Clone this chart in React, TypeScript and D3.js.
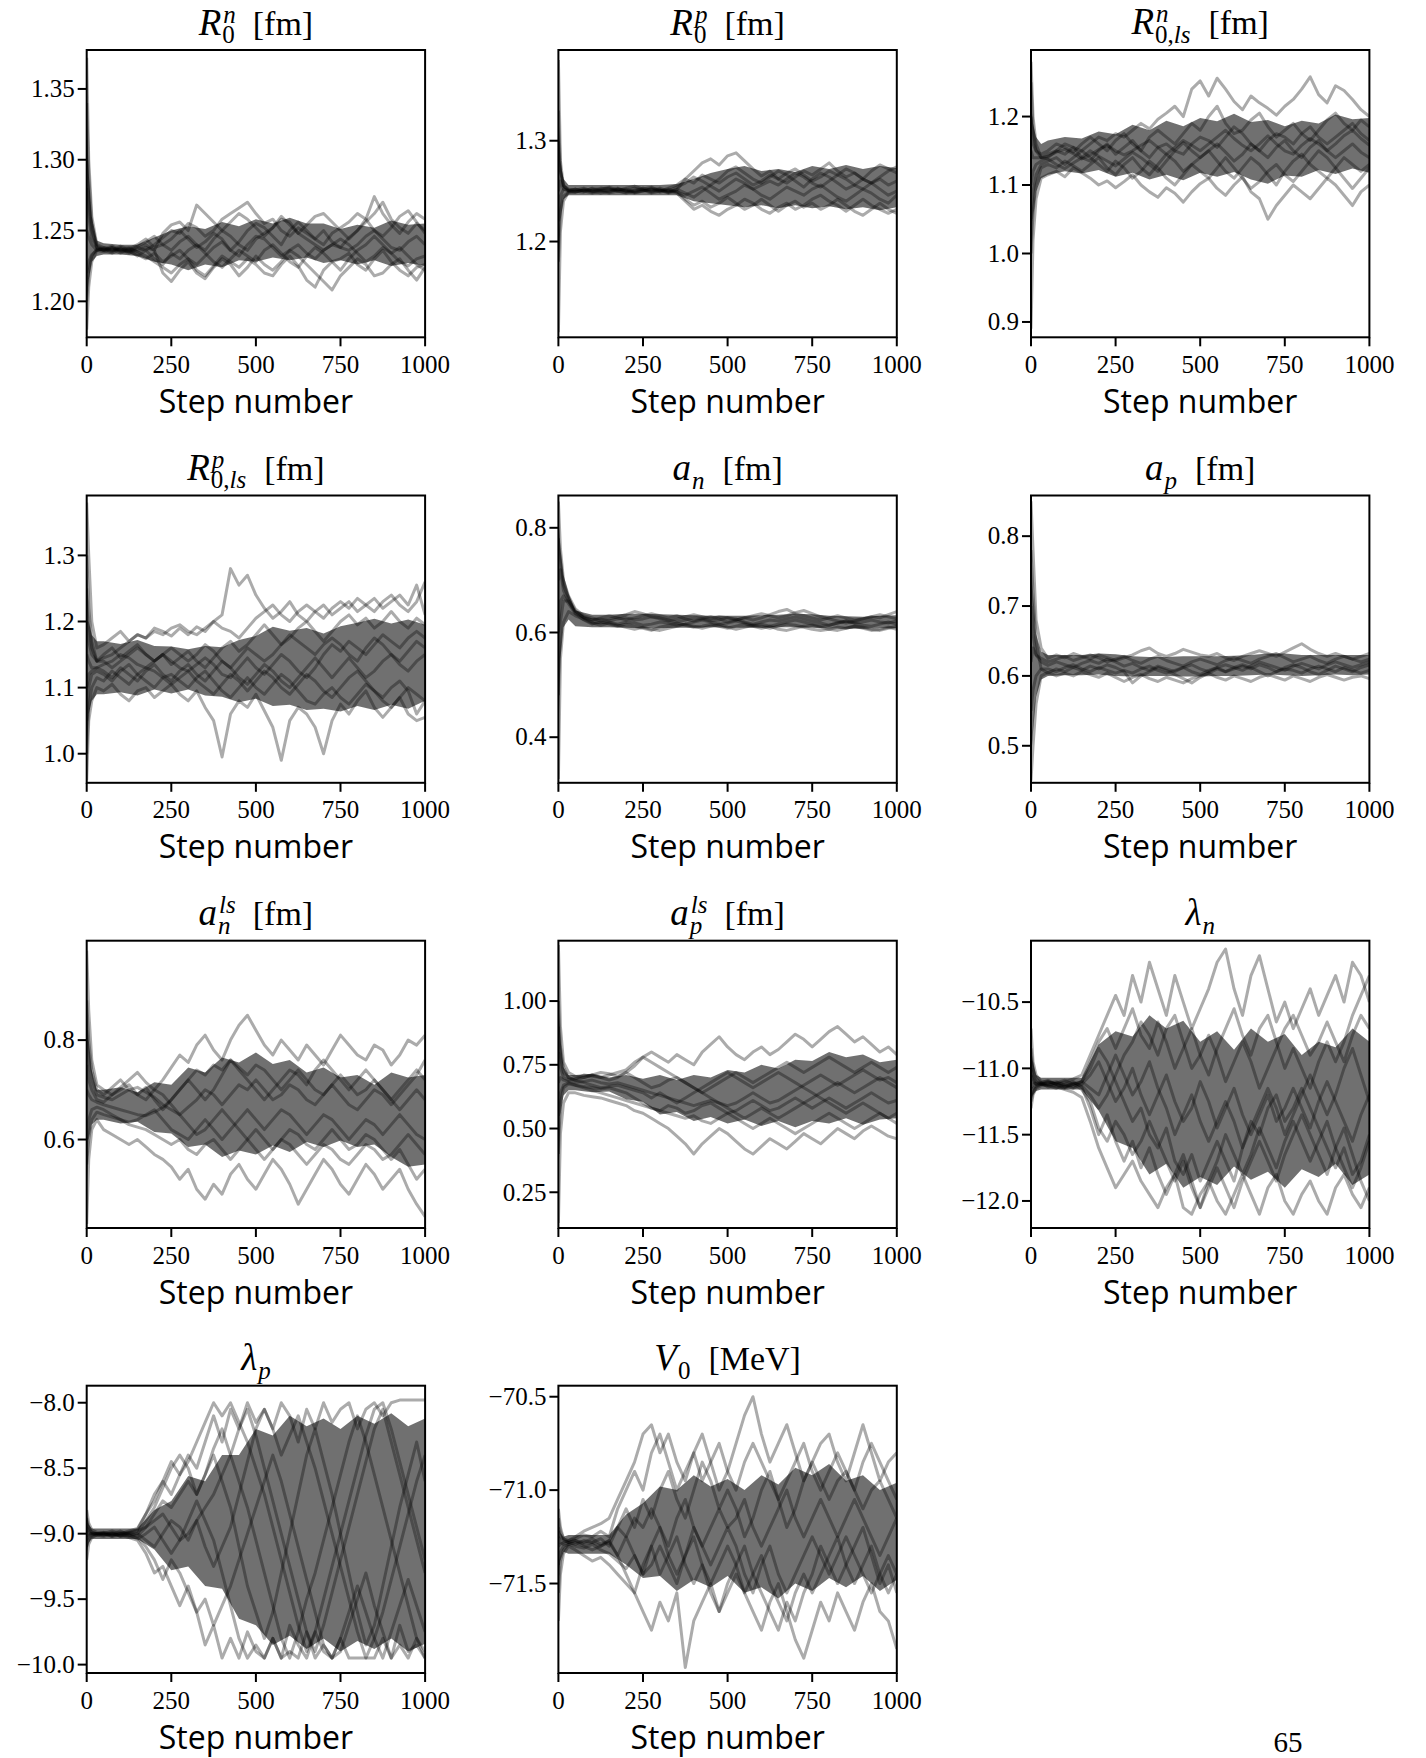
import React from 'react';
import * as d3 from 'd3';

// ---------------- data ----------------
const STEPS = [0, 6, 15, 30, 50, 75, 100, 125, 150, 175, 200, 225, 250, 275, 300, 325, 350, 375, 400, 425, 450, 475, 500, 525, 550, 575, 600, 625, 650, 675, 700, 725, 750, 775, 800, 825, 850, 875, 900, 925, 950, 975, 1000];
const BAND_STEPS = [0, 6, 15, 30, 50, 100, 150, 200, 250, 300, 350, 400, 450, 500, 550, 600, 650, 700, 750, 800, 850, 900, 950, 1000];
const X_TICKS = [0, 250, 500, 750, 1000];

const R0N_WALKERS = [
  [1.372, 1.30, 1.26, 1.240, 1.238, 1.236, 1.237, 1.235, 1.238, 1.236, 1.240, 1.245, 1.250, 1.248, 1.255, 1.252, 1.246, 1.250, 1.258, 1.262, 1.266, 1.270, 1.262, 1.255, 1.258, 1.250, 1.246, 1.252, 1.248, 1.244, 1.250, 1.242, 1.238, 1.245, 1.250, 1.256, 1.262, 1.270, 1.258, 1.252, 1.248, 1.255, 1.250],
  [1.18, 1.21, 1.228, 1.236, 1.237, 1.239, 1.236, 1.238, 1.235, 1.232, 1.228, 1.224, 1.220, 1.226, 1.230, 1.222, 1.218, 1.225, 1.232, 1.228, 1.224, 1.230, 1.226, 1.220, 1.218, 1.226, 1.232, 1.225, 1.215, 1.210, 1.222, 1.228, 1.230, 1.234, 1.226, 1.222, 1.230, 1.236, 1.228, 1.222, 1.218, 1.224, 1.226],
  [1.30, 1.27, 1.25, 1.238, 1.236, 1.238, 1.235, 1.237, 1.240, 1.244, 1.238, 1.240, 1.236, 1.242, 1.246, 1.240, 1.236, 1.244, 1.250, 1.246, 1.240, 1.236, 1.244, 1.248, 1.252, 1.258, 1.256, 1.248, 1.244, 1.240, 1.236, 1.240, 1.238, 1.236, 1.240, 1.246, 1.250, 1.244, 1.238, 1.236, 1.242, 1.246, 1.240],
  [1.20, 1.22, 1.232, 1.237, 1.236, 1.234, 1.237, 1.235, 1.233, 1.230, 1.234, 1.228, 1.232, 1.236, 1.230, 1.226, 1.232, 1.238, 1.242, 1.236, 1.232, 1.240, 1.246, 1.244, 1.238, 1.232, 1.236, 1.240, 1.234, 1.230, 1.236, 1.240, 1.244, 1.240, 1.234, 1.228, 1.232, 1.238, 1.234, 1.228, 1.225, 1.230, 1.232],
  [1.34, 1.29, 1.255, 1.239, 1.237, 1.235, 1.238, 1.236, 1.239, 1.242, 1.246, 1.240, 1.244, 1.250, 1.244, 1.238, 1.242, 1.248, 1.244, 1.236, 1.242, 1.250, 1.255, 1.252, 1.246, 1.240, 1.250, 1.256, 1.250, 1.244, 1.240, 1.248, 1.252, 1.256, 1.262, 1.258, 1.250, 1.246, 1.252, 1.260, 1.264, 1.256, 1.248],
  [1.25, 1.245, 1.24, 1.236, 1.235, 1.237, 1.234, 1.236, 1.232, 1.236, 1.230, 1.226, 1.234, 1.230, 1.236, 1.240, 1.234, 1.228, 1.224, 1.230, 1.236, 1.232, 1.228, 1.236, 1.240, 1.234, 1.228, 1.224, 1.232, 1.238, 1.234, 1.228, 1.222, 1.230, 1.236, 1.240, 1.246, 1.240, 1.234, 1.238, 1.232, 1.226, 1.222],
  [1.22, 1.228, 1.233, 1.236, 1.238, 1.236, 1.239, 1.237, 1.235, 1.238, 1.236, 1.220, 1.214, 1.222, 1.228, 1.220, 1.216, 1.224, 1.230, 1.226, 1.218, 1.224, 1.232, 1.226, 1.222, 1.228, 1.236, 1.232, 1.226, 1.220, 1.214, 1.208, 1.218, 1.224, 1.230, 1.226, 1.218, 1.220, 1.226, 1.230, 1.222, 1.215, 1.224],
  [1.28, 1.26, 1.245, 1.238, 1.236, 1.238, 1.236, 1.234, 1.237, 1.240, 1.236, 1.248, 1.254, 1.256, 1.250, 1.268, 1.262, 1.256, 1.250, 1.256, 1.262, 1.258, 1.252, 1.246, 1.252, 1.260, 1.254, 1.248, 1.254, 1.260, 1.262, 1.256, 1.250, 1.244, 1.250, 1.258, 1.274, 1.262, 1.254, 1.248, 1.256, 1.262, 1.258],
];
const R0N_LO = [1.20, 1.215, 1.228, 1.232, 1.233, 1.233, 1.232, 1.228, 1.226, 1.222, 1.226, 1.224, 1.229, 1.228, 1.231, 1.229, 1.231, 1.227, 1.229, 1.226, 1.229, 1.225, 1.227, 1.225];
const R0N_HI = [1.33, 1.29, 1.26, 1.243, 1.241, 1.240, 1.240, 1.245, 1.250, 1.253, 1.251, 1.256, 1.253, 1.258, 1.255, 1.259, 1.255, 1.255, 1.251, 1.254, 1.252, 1.257, 1.254, 1.255];
const R0N_DOMAIN = [1.1746, 1.3775];
const R0N_TICKS = [1.2, 1.25, 1.3, 1.35];

const R0P_WALKERS = [
  [1.38, 1.28, 1.255, 1.251, 1.252, 1.250, 1.253, 1.251, 1.249, 1.252, 1.250, 1.253, 1.251, 1.250, 1.252, 1.249, 1.251, 1.262, 1.270, 1.278, 1.282, 1.276, 1.285, 1.288, 1.280, 1.272, 1.265, 1.270, 1.262, 1.258, 1.264, 1.270, 1.266, 1.272, 1.278, 1.270, 1.264, 1.268, 1.262, 1.270, 1.276, 1.272, 1.268],
  [1.11, 1.21, 1.24, 1.249, 1.250, 1.252, 1.249, 1.251, 1.253, 1.250, 1.248, 1.250, 1.252, 1.249, 1.251, 1.248, 1.250, 1.242, 1.236, 1.240, 1.234, 1.238, 1.244, 1.238, 1.232, 1.236, 1.242, 1.236, 1.230, 1.236, 1.240, 1.234, 1.238, 1.232, 1.236, 1.242, 1.236, 1.230, 1.226, 1.232, 1.238, 1.232, 1.228],
  [1.30, 1.27, 1.255, 1.252, 1.251, 1.253, 1.250, 1.252, 1.254, 1.251, 1.253, 1.255, 1.252, 1.254, 1.250, 1.253, 1.256, 1.262, 1.258, 1.266, 1.262, 1.258, 1.264, 1.268, 1.262, 1.256, 1.260, 1.266, 1.262, 1.268, 1.272, 1.266, 1.260, 1.264, 1.270, 1.266, 1.272, 1.268, 1.262, 1.258, 1.264, 1.270, 1.274],
  [1.18, 1.23, 1.245, 1.249, 1.249, 1.251, 1.252, 1.250, 1.248, 1.250, 1.252, 1.249, 1.251, 1.248, 1.250, 1.252, 1.249, 1.246, 1.250, 1.254, 1.248, 1.242, 1.246, 1.250, 1.256, 1.252, 1.246, 1.242, 1.248, 1.254, 1.250, 1.246, 1.252, 1.256, 1.250, 1.244, 1.240, 1.246, 1.252, 1.248, 1.242, 1.238, 1.246],
  [1.25, 1.26, 1.252, 1.250, 1.252, 1.250, 1.248, 1.250, 1.251, 1.253, 1.250, 1.248, 1.250, 1.252, 1.249, 1.251, 1.248, 1.240, 1.232, 1.236, 1.230, 1.226, 1.232, 1.236, 1.242, 1.238, 1.232, 1.228, 1.234, 1.238, 1.232, 1.236, 1.242, 1.246, 1.240, 1.236, 1.230, 1.236, 1.242, 1.236, 1.232, 1.228, 1.232],
  [1.22, 1.245, 1.252, 1.251, 1.250, 1.249, 1.251, 1.253, 1.252, 1.250, 1.249, 1.251, 1.253, 1.251, 1.253, 1.250, 1.254, 1.258, 1.264, 1.260, 1.255, 1.250, 1.256, 1.262, 1.258, 1.252, 1.256, 1.260, 1.256, 1.262, 1.268, 1.264, 1.258, 1.254, 1.260, 1.266, 1.262, 1.256, 1.252, 1.258, 1.262, 1.256, 1.260],
  [1.33, 1.27, 1.256, 1.250, 1.249, 1.251, 1.250, 1.248, 1.250, 1.252, 1.251, 1.249, 1.250, 1.253, 1.251, 1.249, 1.252, 1.248, 1.244, 1.250, 1.256, 1.262, 1.270, 1.274, 1.268, 1.262, 1.258, 1.264, 1.270, 1.266, 1.260, 1.254, 1.262, 1.268, 1.264, 1.258, 1.252, 1.256, 1.262, 1.258, 1.252, 1.246, 1.250],
];
const R0P_LO = [1.16, 1.22, 1.242, 1.246, 1.246, 1.246, 1.246, 1.246, 1.246, 1.246, 1.246, 1.240, 1.238, 1.236, 1.234, 1.236, 1.233, 1.236, 1.233, 1.235, 1.232, 1.234, 1.231, 1.234];
const R0P_HI = [1.33, 1.28, 1.262, 1.256, 1.256, 1.256, 1.256, 1.256, 1.256, 1.256, 1.257, 1.262, 1.268, 1.272, 1.275, 1.270, 1.272, 1.269, 1.275, 1.272, 1.276, 1.272, 1.275, 1.273];
const R0P_DOMAIN = [1.105, 1.39];
const R0P_TICKS = [1.2, 1.3];

const R0LSN_WALKERS = [
  [1.28, 1.20, 1.16, 1.14, 1.145, 1.150, 1.160, 1.155, 1.150, 1.160, 1.170, 1.165, 1.175, 1.170, 1.180, 1.190, 1.182, 1.196, 1.205, 1.215, 1.200, 1.240, 1.252, 1.230, 1.256, 1.240, 1.222, 1.210, 1.230, 1.220, 1.212, 1.202, 1.215, 1.225, 1.240, 1.258, 1.232, 1.220, 1.245, 1.238, 1.225, 1.210, 1.200],
  [0.89, 1.02, 1.08, 1.11, 1.115, 1.120, 1.112, 1.125, 1.118, 1.110, 1.100, 1.106, 1.096, 1.105, 1.115, 1.100, 1.090, 1.082, 1.096, 1.088, 1.075, 1.090, 1.102, 1.110, 1.095, 1.085, 1.100, 1.112, 1.090, 1.080, 1.050, 1.070, 1.085, 1.100, 1.090, 1.080, 1.095, 1.110, 1.100, 1.085, 1.070, 1.090, 1.100],
  [1.10, 1.12, 1.13, 1.135, 1.140, 1.150, 1.145, 1.155, 1.140, 1.135, 1.150, 1.160, 1.145, 1.155, 1.165, 1.150, 1.140, 1.155, 1.160, 1.150, 1.145, 1.160, 1.170, 1.165, 1.155, 1.170, 1.185, 1.175, 1.160, 1.150, 1.165, 1.175, 1.170, 1.160, 1.175, 1.185, 1.170, 1.160, 1.170, 1.180, 1.190, 1.175, 1.165],
  [1.00, 1.06, 1.10, 1.125, 1.130, 1.125, 1.135, 1.128, 1.120, 1.130, 1.140, 1.125, 1.115, 1.130, 1.140, 1.125, 1.115, 1.130, 1.145, 1.135, 1.120, 1.130, 1.140, 1.150, 1.135, 1.120, 1.110, 1.125, 1.140, 1.130, 1.115, 1.100, 1.120, 1.135, 1.145, 1.130, 1.120, 1.110, 1.125, 1.140, 1.130, 1.120, 1.130],
  [1.20, 1.16, 1.15, 1.145, 1.150, 1.160, 1.155, 1.148, 1.160, 1.170, 1.160, 1.150, 1.165, 1.175, 1.160, 1.150, 1.170, 1.180, 1.170, 1.160, 1.175, 1.190, 1.180, 1.200, 1.215, 1.190, 1.175, 1.180, 1.195, 1.205, 1.185, 1.170, 1.180, 1.190, 1.175, 1.165, 1.180, 1.195, 1.205, 1.190, 1.180, 1.195, 1.185],
  [1.05, 1.09, 1.115, 1.13, 1.135, 1.140, 1.130, 1.140, 1.150, 1.140, 1.130, 1.120, 1.135, 1.125, 1.110, 1.120, 1.135, 1.125, 1.110, 1.100, 1.115, 1.130, 1.120, 1.110, 1.125, 1.140, 1.125, 1.110, 1.095, 1.105, 1.120, 1.130, 1.115, 1.105, 1.120, 1.135, 1.150, 1.140, 1.125, 1.110, 1.095, 1.110, 1.125],
  [1.15, 1.14, 1.14, 1.14, 1.142, 1.148, 1.152, 1.146, 1.138, 1.144, 1.152, 1.158, 1.150, 1.144, 1.150, 1.158, 1.165, 1.155, 1.145, 1.155, 1.165, 1.158, 1.150, 1.160, 1.170, 1.180, 1.168, 1.158, 1.150, 1.160, 1.172, 1.160, 1.150, 1.145, 1.158, 1.168, 1.160, 1.150, 1.160, 1.172, 1.180, 1.168, 1.158],
  [1.25, 1.18, 1.15, 1.14, 1.138, 1.130, 1.124, 1.132, 1.140, 1.150, 1.142, 1.135, 1.128, 1.138, 1.148, 1.140, 1.130, 1.120, 1.135, 1.150, 1.162, 1.150, 1.140, 1.150, 1.160, 1.148, 1.135, 1.145, 1.160, 1.150, 1.140, 1.155, 1.165, 1.150, 1.140, 1.155, 1.165, 1.150, 1.140, 1.150, 1.160, 1.148, 1.140],
];
const R0LSN_LO = [0.98, 1.05, 1.09, 1.11, 1.115, 1.12, 1.117, 1.122, 1.112, 1.118, 1.108, 1.115, 1.107, 1.118, 1.112, 1.119, 1.108, 1.102, 1.114, 1.112, 1.122, 1.116, 1.124, 1.118];
const R0LSN_HI = [1.22, 1.19, 1.17, 1.16, 1.165, 1.17, 1.168, 1.178, 1.174, 1.188, 1.180, 1.194, 1.186, 1.198, 1.193, 1.204, 1.192, 1.195, 1.186, 1.194, 1.190, 1.203, 1.196, 1.198];
const R0LSN_DOMAIN = [0.8776, 1.2972];
const R0LSN_TICKS = [0.9, 1.0, 1.1, 1.2];

const R0LSP_WALKERS = [
  [1.38, 1.30, 1.20, 1.16, 1.165, 1.175, 1.185, 1.170, 1.180, 1.175, 1.190, 1.185, 1.178, 1.190, 1.180, 1.192, 1.185, 1.200, 1.210, 1.280, 1.255, 1.270, 1.240, 1.220, 1.205, 1.215, 1.230, 1.210, 1.200, 1.215, 1.225, 1.210, 1.220, 1.230, 1.215, 1.225, 1.235, 1.220, 1.230, 1.240, 1.225, 1.255, 1.210],
  [0.96, 1.05, 1.08, 1.10, 1.095, 1.105, 1.090, 1.080, 1.095, 1.100, 1.085, 1.095, 1.105, 1.090, 1.080, 1.095, 1.070, 1.050, 0.995, 1.060, 1.080, 1.070, 1.090, 1.065, 1.040, 0.990, 1.050, 1.070, 1.060, 1.040, 1.000, 1.050, 1.075, 1.060, 1.080, 1.095, 1.070, 1.055, 1.070, 1.085, 1.060, 1.050, 1.055],
  [1.15, 1.14, 1.13, 1.13, 1.135, 1.140, 1.150, 1.145, 1.135, 1.130, 1.140, 1.150, 1.140, 1.130, 1.125, 1.135, 1.145, 1.135, 1.120, 1.115, 1.130, 1.145, 1.130, 1.120, 1.135, 1.150, 1.140, 1.125, 1.115, 1.130, 1.150, 1.165, 1.155, 1.170, 1.160, 1.150, 1.165, 1.180, 1.170, 1.160, 1.175, 1.185, 1.175],
  [1.05, 1.10, 1.12, 1.125, 1.120, 1.110, 1.125, 1.135, 1.120, 1.110, 1.100, 1.115, 1.120, 1.110, 1.100, 1.115, 1.125, 1.110, 1.095, 1.085, 1.100, 1.115, 1.100, 1.090, 1.105, 1.120, 1.110, 1.095, 1.080, 1.075, 1.090, 1.100, 1.085, 1.075, 1.090, 1.105, 1.095, 1.080, 1.070, 1.085, 1.100, 1.090, 1.080],
  [1.25, 1.20, 1.16, 1.14, 1.150, 1.160, 1.145, 1.155, 1.165, 1.150, 1.140, 1.150, 1.135, 1.145, 1.155, 1.140, 1.130, 1.145, 1.160, 1.170, 1.155, 1.165, 1.180, 1.195, 1.180, 1.165, 1.175, 1.190, 1.200, 1.185, 1.170, 1.185, 1.200, 1.210, 1.195, 1.205, 1.190, 1.200, 1.215, 1.200, 1.190, 1.205, 1.195],
  [1.10, 1.12, 1.125, 1.13, 1.125, 1.115, 1.130, 1.120, 1.110, 1.125, 1.135, 1.120, 1.110, 1.125, 1.135, 1.120, 1.110, 1.125, 1.140, 1.130, 1.115, 1.105, 1.120, 1.135, 1.125, 1.110, 1.100, 1.115, 1.130, 1.145, 1.130, 1.115, 1.130, 1.145, 1.130, 1.115, 1.125, 1.140, 1.150, 1.135, 1.125, 1.140, 1.150],
  [1.20, 1.17, 1.15, 1.14, 1.145, 1.150, 1.160, 1.170, 1.180, 1.175, 1.185, 1.180, 1.190, 1.195, 1.185, 1.180, 1.190, 1.200, 1.190, 1.185, 1.175, 1.190, 1.205, 1.215, 1.225, 1.210, 1.200, 1.215, 1.225, 1.215, 1.205, 1.220, 1.230, 1.220, 1.235, 1.225, 1.215, 1.230, 1.240, 1.225, 1.215, 1.230, 1.260],
  [1.00, 1.07, 1.10, 1.115, 1.110, 1.125, 1.115, 1.105, 1.120, 1.130, 1.125, 1.115, 1.105, 1.115, 1.125, 1.110, 1.100, 1.090, 1.105, 1.120, 1.110, 1.095, 1.110, 1.125, 1.115, 1.100, 1.090, 1.105, 1.120, 1.110, 1.095, 1.085, 1.100, 1.115, 1.125, 1.110, 1.095, 1.085, 1.100, 1.110, 1.095, 1.060, 1.080],
  [1.30, 1.22, 1.17, 1.14, 1.140, 1.130, 1.140, 1.150, 1.160, 1.150, 1.140, 1.150, 1.160, 1.150, 1.140, 1.150, 1.165, 1.155, 1.140, 1.130, 1.145, 1.160, 1.150, 1.140, 1.150, 1.165, 1.180, 1.170, 1.160, 1.150, 1.165, 1.175, 1.165, 1.150, 1.140, 1.160, 1.175, 1.165, 1.150, 1.140, 1.155, 1.170, 1.160],
];
const R0LSP_LO = [1.0, 1.06, 1.08, 1.09, 1.09, 1.093, 1.088, 1.097, 1.091, 1.097, 1.088, 1.086, 1.078, 1.083, 1.072, 1.074, 1.066, 1.068, 1.064, 1.072, 1.066, 1.074, 1.068, 1.08];
const R0LSP_HI = [1.3, 1.2, 1.18, 1.17, 1.17, 1.166, 1.172, 1.163, 1.162, 1.158, 1.163, 1.161, 1.172, 1.178, 1.192, 1.186, 1.19, 1.182, 1.193, 1.198, 1.204, 1.197, 1.203, 1.195];
const R0LSP_DOMAIN = [0.956, 1.3906];
const R0LSP_TICKS = [1.0, 1.1, 1.2, 1.3];

const AN_WALKERS = [
  [0.85, 0.76, 0.70, 0.67, 0.645, 0.632, 0.628, 0.622, 0.626, 0.630, 0.634, 0.640, 0.636, 0.630, 0.626, 0.622, 0.626, 0.630, 0.634, 0.630, 0.626, 0.630, 0.628, 0.624, 0.628, 0.632, 0.636, 0.632, 0.628, 0.632, 0.638, 0.642, 0.636, 0.630, 0.626, 0.622, 0.618, 0.622, 0.626, 0.630, 0.628, 0.634, 0.640],
  [0.32, 0.55, 0.62, 0.64, 0.632, 0.625, 0.618, 0.614, 0.618, 0.614, 0.610, 0.606, 0.610, 0.606, 0.604, 0.608, 0.612, 0.616, 0.612, 0.608, 0.612, 0.616, 0.610, 0.606, 0.610, 0.614, 0.612, 0.608, 0.612, 0.616, 0.614, 0.610, 0.606, 0.604, 0.606, 0.610, 0.608, 0.612, 0.610, 0.606, 0.604, 0.608, 0.612],
  [0.70, 0.72, 0.68, 0.66, 0.640, 0.630, 0.624, 0.626, 0.622, 0.626, 0.628, 0.624, 0.626, 0.630, 0.628, 0.624, 0.620, 0.624, 0.628, 0.626, 0.622, 0.624, 0.628, 0.626, 0.620, 0.616, 0.620, 0.624, 0.622, 0.626, 0.630, 0.626, 0.622, 0.618, 0.614, 0.618, 0.622, 0.618, 0.620, 0.624, 0.620, 0.618, 0.622],
  [0.48, 0.62, 0.66, 0.66, 0.638, 0.628, 0.620, 0.618, 0.620, 0.616, 0.620, 0.618, 0.614, 0.616, 0.620, 0.618, 0.614, 0.616, 0.620, 0.624, 0.620, 0.616, 0.618, 0.622, 0.618, 0.614, 0.616, 0.612, 0.616, 0.620, 0.624, 0.620, 0.616, 0.612, 0.614, 0.618, 0.622, 0.618, 0.614, 0.612, 0.616, 0.620, 0.616],
  [0.78, 0.74, 0.69, 0.665, 0.642, 0.628, 0.624, 0.628, 0.632, 0.628, 0.624, 0.628, 0.632, 0.636, 0.632, 0.628, 0.632, 0.626, 0.622, 0.626, 0.630, 0.626, 0.620, 0.624, 0.628, 0.624, 0.628, 0.634, 0.640, 0.644, 0.636, 0.632, 0.628, 0.624, 0.628, 0.632, 0.628, 0.624, 0.626, 0.630, 0.634, 0.630, 0.626],
  [0.60, 0.66, 0.67, 0.655, 0.636, 0.624, 0.616, 0.620, 0.616, 0.612, 0.616, 0.612, 0.608, 0.604, 0.610, 0.614, 0.618, 0.614, 0.610, 0.612, 0.616, 0.612, 0.608, 0.612, 0.616, 0.612, 0.608, 0.612, 0.606, 0.604, 0.608, 0.612, 0.614, 0.610, 0.606, 0.604, 0.608, 0.612, 0.608, 0.604, 0.606, 0.610, 0.606],
];
const AN_LO = [0.40, 0.55, 0.61, 0.625, 0.612, 0.610, 0.610, 0.609, 0.608, 0.608, 0.609, 0.609, 0.610, 0.609, 0.609, 0.609, 0.610, 0.610, 0.609, 0.608, 0.607, 0.607, 0.608, 0.608];
const AN_HI = [0.82, 0.76, 0.71, 0.675, 0.642, 0.634, 0.634, 0.636, 0.636, 0.635, 0.634, 0.633, 0.632, 0.632, 0.632, 0.633, 0.634, 0.636, 0.635, 0.632, 0.631, 0.630, 0.632, 0.633];
const AN_DOMAIN = [0.3129, 0.8617];
const AN_TICKS = [0.4, 0.6, 0.8];

const AP_WALKERS = [
  [0.85, 0.78, 0.68, 0.64, 0.625, 0.630, 0.626, 0.632, 0.628, 0.624, 0.630, 0.626, 0.622, 0.626, 0.630, 0.636, 0.640, 0.632, 0.628, 0.632, 0.638, 0.634, 0.630, 0.628, 0.632, 0.626, 0.622, 0.628, 0.632, 0.636, 0.632, 0.628, 0.634, 0.640, 0.646, 0.638, 0.632, 0.628, 0.632, 0.628, 0.624, 0.628, 0.632],
  [0.45, 0.50, 0.56, 0.60, 0.605, 0.600, 0.604, 0.600, 0.606, 0.602, 0.598, 0.604, 0.598, 0.592, 0.598, 0.602, 0.596, 0.592, 0.598, 0.594, 0.590, 0.596, 0.600, 0.604, 0.598, 0.594, 0.600, 0.596, 0.592, 0.598, 0.602, 0.598, 0.594, 0.600, 0.596, 0.592, 0.598, 0.602, 0.598, 0.594, 0.598, 0.600, 0.596],
  [0.70, 0.66, 0.63, 0.62, 0.615, 0.620, 0.616, 0.612, 0.618, 0.622, 0.618, 0.624, 0.620, 0.614, 0.618, 0.612, 0.608, 0.614, 0.610, 0.606, 0.612, 0.616, 0.610, 0.606, 0.612, 0.616, 0.612, 0.608, 0.614, 0.620, 0.616, 0.612, 0.608, 0.614, 0.618, 0.614, 0.610, 0.616, 0.620, 0.616, 0.612, 0.616, 0.620],
  [0.55, 0.58, 0.60, 0.61, 0.610, 0.606, 0.612, 0.616, 0.610, 0.606, 0.612, 0.608, 0.604, 0.608, 0.604, 0.610, 0.614, 0.608, 0.604, 0.608, 0.612, 0.606, 0.602, 0.608, 0.612, 0.606, 0.610, 0.614, 0.610, 0.616, 0.612, 0.606, 0.610, 0.608, 0.604, 0.610, 0.614, 0.610, 0.606, 0.612, 0.608, 0.604, 0.608],
  [0.62, 0.64, 0.63, 0.625, 0.620, 0.624, 0.628, 0.622, 0.626, 0.630, 0.626, 0.620, 0.624, 0.628, 0.622, 0.618, 0.624, 0.628, 0.622, 0.618, 0.614, 0.620, 0.624, 0.620, 0.616, 0.622, 0.626, 0.622, 0.618, 0.624, 0.628, 0.632, 0.626, 0.620, 0.624, 0.628, 0.622, 0.618, 0.624, 0.628, 0.624, 0.620, 0.624],
  [0.78, 0.72, 0.65, 0.61, 0.604, 0.610, 0.606, 0.612, 0.608, 0.614, 0.610, 0.616, 0.612, 0.606, 0.590, 0.600, 0.606, 0.612, 0.608, 0.602, 0.596, 0.590, 0.598, 0.604, 0.610, 0.606, 0.612, 0.616, 0.612, 0.606, 0.600, 0.606, 0.612, 0.616, 0.612, 0.606, 0.602, 0.608, 0.614, 0.610, 0.606, 0.612, 0.616],
];
const AP_LO = [0.48, 0.52, 0.57, 0.595, 0.600, 0.601, 0.601, 0.602, 0.600, 0.599, 0.600, 0.600, 0.599, 0.599, 0.600, 0.600, 0.601, 0.602, 0.601, 0.600, 0.601, 0.602, 0.601, 0.602];
const AP_HI = [0.80, 0.72, 0.66, 0.635, 0.630, 0.630, 0.630, 0.632, 0.631, 0.628, 0.627, 0.627, 0.628, 0.628, 0.628, 0.629, 0.630, 0.632, 0.632, 0.630, 0.630, 0.630, 0.630, 0.630];
const AP_DOMAIN = [0.447, 0.8582];
const AP_TICKS = [0.5, 0.6, 0.7, 0.8];

const ANLS_WALKERS = [
  [0.98, 0.86, 0.76, 0.71, 0.700, 0.690, 0.705, 0.720, 0.735, 0.715, 0.700, 0.720, 0.745, 0.770, 0.755, 0.790, 0.810, 0.780, 0.760, 0.800, 0.830, 0.850, 0.820, 0.790, 0.770, 0.800, 0.780, 0.760, 0.790, 0.770, 0.750, 0.780, 0.810, 0.790, 0.770, 0.760, 0.790, 0.780, 0.750, 0.770, 0.800, 0.790, 0.810],
  [0.43, 0.56, 0.62, 0.64, 0.620, 0.610, 0.600, 0.590, 0.600, 0.585, 0.570, 0.560, 0.545, 0.520, 0.540, 0.500, 0.480, 0.510, 0.490, 0.530, 0.550, 0.520, 0.500, 0.530, 0.560, 0.540, 0.510, 0.470, 0.500, 0.530, 0.560, 0.540, 0.510, 0.490, 0.520, 0.550, 0.530, 0.500, 0.520, 0.540, 0.500, 0.470, 0.445],
  [0.70, 0.69, 0.68, 0.675, 0.670, 0.665, 0.660, 0.655, 0.650, 0.648, 0.655, 0.665, 0.680, 0.700, 0.720, 0.740, 0.730, 0.750, 0.740, 0.760, 0.745, 0.730, 0.750, 0.740, 0.720, 0.700, 0.720, 0.740, 0.720, 0.700, 0.690, 0.710, 0.730, 0.710, 0.690, 0.700, 0.720, 0.700, 0.680, 0.700, 0.720, 0.740, 0.720],
  [0.60, 0.64, 0.66, 0.665, 0.660, 0.650, 0.640, 0.630, 0.625, 0.620, 0.610, 0.600, 0.590, 0.600, 0.580, 0.570, 0.590, 0.600, 0.580, 0.560, 0.580, 0.600, 0.620, 0.600, 0.580, 0.600, 0.620, 0.610, 0.590, 0.580, 0.600, 0.620, 0.600, 0.580, 0.590, 0.610, 0.600, 0.580, 0.560, 0.580, 0.550, 0.520, 0.540],
  [0.82, 0.76, 0.72, 0.69, 0.685, 0.680, 0.690, 0.700, 0.705, 0.695, 0.685, 0.670, 0.660, 0.650, 0.665, 0.680, 0.700, 0.690, 0.670, 0.690, 0.710, 0.700, 0.720, 0.700, 0.680, 0.690, 0.710, 0.700, 0.680, 0.670, 0.690, 0.710, 0.690, 0.670, 0.660, 0.680, 0.700, 0.690, 0.670, 0.690, 0.710, 0.730, 0.760],
  [0.55, 0.60, 0.64, 0.655, 0.650, 0.645, 0.640, 0.635, 0.640, 0.650, 0.660, 0.640, 0.620, 0.610, 0.600, 0.620, 0.640, 0.620, 0.600, 0.620, 0.640, 0.660, 0.640, 0.620, 0.640, 0.660, 0.650, 0.630, 0.610, 0.630, 0.650, 0.640, 0.620, 0.600, 0.620, 0.640, 0.630, 0.610, 0.630, 0.650, 0.630, 0.610, 0.600],
  [0.75, 0.72, 0.70, 0.68, 0.675, 0.690, 0.700, 0.710, 0.690, 0.680, 0.700, 0.690, 0.670, 0.650, 0.630, 0.610, 0.620, 0.640, 0.660, 0.640, 0.620, 0.600, 0.580, 0.560, 0.580, 0.600, 0.590, 0.570, 0.550, 0.570, 0.590, 0.580, 0.560, 0.550, 0.570, 0.590, 0.580, 0.560, 0.570, 0.590, 0.610, 0.590, 0.570],
  [0.88, 0.80, 0.74, 0.70, 0.690, 0.705, 0.720, 0.700, 0.690, 0.705, 0.680, 0.660, 0.680, 0.700, 0.720, 0.700, 0.680, 0.700, 0.730, 0.760, 0.740, 0.720, 0.700, 0.680, 0.700, 0.720, 0.740, 0.730, 0.710, 0.740, 0.760, 0.740, 0.720, 0.700, 0.720, 0.740, 0.720, 0.700, 0.680, 0.660, 0.680, 0.700, 0.680],
];
const ANLS_LO = [0.50, 0.60, 0.63, 0.64, 0.64, 0.632, 0.636, 0.615, 0.612, 0.585, 0.59, 0.565, 0.578, 0.57, 0.588, 0.575, 0.595, 0.585, 0.598, 0.585, 0.59, 0.565, 0.545, 0.55];
const ANLS_HI = [0.90, 0.80, 0.74, 0.70, 0.70, 0.705, 0.695, 0.715, 0.71, 0.745, 0.735, 0.765, 0.755, 0.775, 0.752, 0.76, 0.735, 0.745, 0.725, 0.73, 0.71, 0.735, 0.725, 0.73];
const ANLS_DOMAIN = [0.422, 1.0];
const ANLS_TICKS = [0.6, 0.8];

const APLS_WALKERS = [
  [1.22, 0.90, 0.76, 0.72, 0.705, 0.700, 0.710, 0.720, 0.715, 0.705, 0.720, 0.745, 0.780, 0.800, 0.780, 0.760, 0.790, 0.770, 0.750, 0.800, 0.830, 0.860, 0.820, 0.790, 0.770, 0.800, 0.820, 0.790, 0.810, 0.840, 0.870, 0.850, 0.820, 0.850, 0.880, 0.900, 0.870, 0.840, 0.860, 0.830, 0.800, 0.820, 0.790],
  [0.13, 0.48, 0.60, 0.64, 0.640, 0.630, 0.625, 0.620, 0.610, 0.600, 0.590, 0.570, 0.560, 0.540, 0.520, 0.500, 0.470, 0.440, 0.400, 0.440, 0.470, 0.500, 0.480, 0.450, 0.420, 0.400, 0.430, 0.460, 0.440, 0.420, 0.450, 0.480, 0.460, 0.440, 0.470, 0.500, 0.480, 0.460, 0.490, 0.510, 0.490, 0.470, 0.460],
  [0.68, 0.70, 0.69, 0.685, 0.680, 0.685, 0.690, 0.680, 0.675, 0.680, 0.670, 0.660, 0.650, 0.640, 0.630, 0.620, 0.610, 0.600, 0.590, 0.600, 0.610, 0.600, 0.590, 0.600, 0.620, 0.640, 0.620, 0.600, 0.610, 0.630, 0.650, 0.670, 0.690, 0.710, 0.690, 0.670, 0.690, 0.710, 0.730, 0.710, 0.690, 0.700, 0.680],
  [0.40, 0.60, 0.66, 0.675, 0.670, 0.660, 0.650, 0.640, 0.630, 0.620, 0.610, 0.600, 0.590, 0.580, 0.570, 0.560, 0.550, 0.540, 0.550, 0.530, 0.520, 0.540, 0.560, 0.540, 0.520, 0.500, 0.520, 0.540, 0.520, 0.500, 0.480, 0.500, 0.520, 0.540, 0.560, 0.540, 0.520, 0.500, 0.520, 0.540, 0.560, 0.540, 0.520],
  [0.90, 0.78, 0.72, 0.70, 0.690, 0.700, 0.710, 0.700, 0.690, 0.700, 0.720, 0.700, 0.680, 0.660, 0.670, 0.690, 0.700, 0.680, 0.660, 0.640, 0.660, 0.680, 0.700, 0.720, 0.700, 0.680, 0.700, 0.720, 0.740, 0.760, 0.740, 0.720, 0.740, 0.760, 0.780, 0.760, 0.740, 0.720, 0.740, 0.760, 0.740, 0.720, 0.740],
  [0.55, 0.64, 0.67, 0.68, 0.670, 0.665, 0.660, 0.655, 0.660, 0.650, 0.640, 0.620, 0.600, 0.580, 0.570, 0.590, 0.580, 0.560, 0.570, 0.590, 0.600, 0.580, 0.560, 0.570, 0.590, 0.610, 0.590, 0.570, 0.580, 0.600, 0.620, 0.600, 0.580, 0.600, 0.620, 0.600, 0.580, 0.600, 0.620, 0.640, 0.620, 0.600, 0.610],
  [0.80, 0.74, 0.70, 0.69, 0.695, 0.710, 0.705, 0.700, 0.710, 0.720, 0.730, 0.760, 0.780, 0.760, 0.740, 0.720, 0.700, 0.680, 0.660, 0.640, 0.620, 0.600, 0.580, 0.560, 0.540, 0.560, 0.580, 0.560, 0.540, 0.560, 0.580, 0.600, 0.620, 0.640, 0.660, 0.680, 0.660, 0.640, 0.660, 0.680, 0.700, 0.680, 0.660],
  [1.00, 0.82, 0.74, 0.70, 0.690, 0.680, 0.670, 0.660, 0.665, 0.670, 0.660, 0.650, 0.640, 0.620, 0.640, 0.620, 0.600, 0.620, 0.640, 0.660, 0.680, 0.700, 0.720, 0.700, 0.680, 0.660, 0.680, 0.700, 0.720, 0.700, 0.680, 0.660, 0.640, 0.620, 0.600, 0.580, 0.560, 0.580, 0.600, 0.580, 0.560, 0.540, 0.560],
];
const APLS_LO = [0.30, 0.55, 0.63, 0.65, 0.65, 0.642, 0.645, 0.615, 0.605, 0.555, 0.565, 0.53, 0.545, 0.52, 0.535, 0.51, 0.53, 0.505, 0.53, 0.52, 0.54, 0.515, 0.535, 0.54];
const APLS_HI = [1.00, 0.85, 0.74, 0.71, 0.71, 0.715, 0.70, 0.71, 0.695, 0.71, 0.69, 0.71, 0.70, 0.73, 0.72, 0.75, 0.735, 0.77, 0.765, 0.80, 0.78, 0.79, 0.76, 0.77];
const APLS_DOMAIN = [0.1098, 1.2368];
const APLS_TICKS = [0.25, 0.5, 0.75, 1.0];

const LN_WALKERS = [
  [-10.70, -10.95, -11.05, -11.10, -11.10, -11.12, -11.10, -11.08, -11.05, -10.90, -10.75, -10.60, -10.45, -10.60, -10.30, -10.50, -10.20, -10.40, -10.60, -10.30, -10.50, -10.70, -10.55, -10.40, -10.20, -10.10, -10.40, -10.60, -10.30, -10.15, -10.40, -10.65, -10.50, -10.70, -10.55, -10.40, -10.60, -10.45, -10.30, -10.50, -10.20, -10.30, -10.50],
  [-11.30, -11.20, -11.15, -11.13, -11.12, -11.14, -11.16, -11.18, -11.22, -11.40, -11.60, -11.75, -11.90, -11.80, -11.70, -11.85, -11.95, -12.05, -11.90, -11.80, -12.05, -12.10, -11.95, -11.85, -12.00, -12.10, -11.95, -11.80, -11.95, -12.10, -11.90, -11.80, -12.00, -12.10, -11.95, -11.85, -12.00, -12.10, -11.90, -11.80, -11.95, -12.05, -11.90],
  [-11.00, -11.08, -11.12, -11.12, -11.13, -11.11, -11.12, -11.14, -11.10, -11.00, -10.85, -10.95, -11.10, -11.25, -11.40, -11.30, -11.50, -11.60, -11.45, -11.70, -11.80, -11.65, -11.85, -11.70, -11.55, -11.70, -11.85, -11.60, -11.40, -11.50, -11.30, -11.20, -11.40, -11.30, -11.15, -11.30, -11.45, -11.60, -11.75, -11.60, -11.80, -11.70, -11.50],
  [-11.15, -11.12, -11.11, -11.11, -11.09, -11.12, -11.14, -11.11, -11.13, -11.20, -11.30, -11.20, -11.05, -10.90, -10.80, -10.65, -10.75, -10.90, -10.70, -10.60, -10.80, -11.00, -10.90, -10.75, -10.90, -11.10, -10.95, -10.80, -10.95, -11.15, -11.00, -10.85, -10.70, -10.60, -10.75, -10.90, -10.80, -10.65, -10.80, -10.95, -10.75, -10.60, -10.70],
  [-10.85, -11.00, -11.08, -11.11, -11.14, -11.13, -11.15, -11.12, -11.16, -11.25, -11.45, -11.55, -11.40, -11.50, -11.65, -11.55, -11.40, -11.55, -11.70, -11.85, -11.70, -11.90, -12.05, -11.90, -11.75, -11.90, -12.05, -11.85, -11.70, -11.55, -11.70, -11.85, -11.65, -11.50, -11.35, -11.50, -11.65, -11.80, -11.60, -11.45, -11.65, -11.85, -12.00],
  [-11.25, -11.18, -11.14, -11.12, -11.11, -11.10, -11.13, -11.15, -11.12, -11.05, -10.95, -11.10, -11.25, -11.15, -11.00, -11.20, -11.35, -11.20, -11.05, -11.25, -11.40, -11.30, -11.10, -11.25, -11.45, -11.30, -11.15, -11.35, -11.50, -11.35, -11.20, -11.40, -11.30, -11.15, -11.30, -11.45, -11.25, -11.10, -11.25, -11.40, -11.55, -11.35, -11.20],
  [-11.05, -11.10, -11.12, -11.11, -11.12, -11.11, -11.09, -11.12, -11.10, -10.95, -10.80, -10.70, -10.85, -10.70, -10.55, -10.75, -10.85, -10.65, -10.80, -11.00, -10.85, -10.70, -10.90, -11.05, -10.85, -10.70, -10.55, -10.75, -10.90, -10.70, -10.60, -10.80, -11.00, -10.85, -11.00, -11.15, -10.95, -10.80, -10.95, -10.80, -10.60, -10.45, -10.30],
  [-11.20, -11.15, -11.13, -11.12, -11.13, -11.15, -11.12, -11.10, -11.14, -11.30, -11.50, -11.35, -11.55, -11.70, -11.55, -11.75, -11.60, -11.80, -11.95, -11.80, -11.65, -11.85, -12.05, -11.85, -11.70, -11.50, -11.65, -11.80, -11.65, -11.45, -11.60, -11.75, -11.55, -11.40, -11.55, -11.70, -11.55, -11.40, -11.60, -11.75, -11.90, -11.75, -11.55],
  [-10.95, -11.05, -11.10, -11.12, -11.10, -11.12, -11.14, -11.12, -11.10, -11.15, -11.20, -11.05, -10.90, -11.05, -11.20, -11.10, -10.95, -11.15, -11.30, -11.50, -11.35, -11.20, -11.40, -11.55, -11.40, -11.25, -11.40, -11.60, -11.45, -11.30, -11.15, -11.30, -11.50, -11.35, -11.20, -11.05, -11.20, -11.35, -11.20, -11.00, -10.85, -11.05, -11.25],
];
const LN_LO = [-11.25, -11.20, -11.17, -11.16, -11.16, -11.16, -11.16, -11.32, -11.55, -11.60, -11.80, -11.72, -11.90, -11.82, -11.88, -11.74, -11.84, -11.78, -11.90, -11.76, -11.82, -11.72, -11.88, -11.80];
const LN_HI = [-10.85, -10.95, -11.05, -11.07, -11.07, -11.07, -11.07, -10.82, -10.72, -10.76, -10.60, -10.70, -10.64, -10.80, -10.72, -10.86, -10.70, -10.80, -10.74, -10.90, -10.80, -10.84, -10.70, -10.80];
const LN_DOMAIN = [-12.204, -10.037];
const LN_TICKS = [-12.0, -11.5, -11.0, -10.5];

const LP_WALKERS = [
  [-8.82, -8.92, -8.97, -8.99, -9.00, -8.98, -9.00, -8.99, -8.97, -8.85, -8.70, -8.60, -8.45, -8.55, -8.40, -8.50, -8.30, -8.10, -8.30, -8.05, -8.20, -8.00, -8.15, -8.05, -8.20, -8.00, -8.10, -8.30, -8.05, -8.20, -8.00, -8.15, -8.05, -8.00, -8.20, -8.05, -8.00, -8.10, -8.00, -7.98, -7.98, -7.98, -7.98],
  [-9.20, -9.08, -9.03, -9.01, -9.00, -9.02, -9.01, -9.03, -9.05, -9.15, -9.30, -9.25, -9.40, -9.55, -9.40, -9.60, -9.85, -9.70, -9.95, -9.80, -9.95, -9.75, -9.90, -9.95, -9.80, -9.95, -9.70, -9.85, -9.95, -9.75, -9.90, -9.95, -9.80, -9.95, -9.95, -9.95, -9.95, -9.80, -9.95, -9.70, -9.90, -9.85, -9.95],
  [-8.95, -8.98, -9.00, -9.00, -9.01, -8.99, -9.02, -9.00, -8.98, -8.95, -8.85, -8.75, -8.80, -8.70, -8.60, -8.70, -8.55, -8.40, -8.60, -8.80, -9.10, -9.40, -9.60, -9.80, -9.60, -9.30, -9.00, -8.70, -8.40, -8.20, -8.45, -8.70, -9.00, -9.30, -9.60, -9.85, -9.70, -9.40, -9.10, -8.80, -8.55, -8.30, -8.60],
  [-9.05, -9.02, -9.01, -9.00, -8.99, -9.01, -9.00, -9.02, -9.00, -9.05, -9.10, -9.00, -8.90, -8.95, -9.05, -8.90, -8.80, -8.70, -8.55, -8.40, -8.20, -8.05, -8.25, -8.50, -8.75, -9.00, -9.25, -9.50, -9.75, -9.90, -9.70, -9.45, -9.20, -8.95, -8.70, -8.45, -8.20, -8.05, -8.30, -8.55, -8.80, -9.05, -9.30],
  [-8.88, -8.95, -8.99, -9.00, -9.00, -9.01, -8.99, -9.00, -9.02, -8.95, -8.90, -8.85, -8.95, -9.05, -9.00, -8.90, -9.10, -9.25, -9.10, -8.95, -8.70, -8.45, -8.20, -8.05, -8.20, -8.40, -8.25, -8.10, -8.30, -8.50, -8.75, -9.00, -9.25, -9.50, -9.75, -9.95, -9.80, -9.60, -9.35, -9.10, -8.85, -8.60, -8.40],
  [-9.10, -9.04, -9.02, -9.01, -9.01, -9.00, -9.02, -9.01, -9.03, -9.10, -9.20, -9.35, -9.20, -9.30, -9.45, -9.60, -9.50, -9.70, -9.55, -9.40, -9.20, -9.00, -8.80, -8.60, -8.40, -8.60, -8.85, -9.10, -9.35, -9.60, -9.85, -9.95, -9.80, -9.60, -9.40, -9.60, -9.80, -9.95, -9.75, -9.55, -9.35, -9.55, -9.75],
  [-8.98, -9.00, -9.00, -9.00, -8.99, -9.00, -9.01, -8.99, -9.00, -8.90, -8.80, -8.65, -8.50, -8.40, -8.50, -8.70, -8.55, -8.35, -8.20, -8.40, -8.60, -8.80, -9.05, -9.30, -9.55, -9.80, -9.95, -9.75, -9.50, -9.30, -9.05, -8.80, -8.55, -8.30, -8.10, -8.30, -8.55, -8.80, -9.05, -9.30, -9.55, -9.80, -9.90],
  [-9.02, -9.01, -9.00, -9.01, -9.02, -9.00, -8.98, -9.01, -9.04, -9.00, -8.95, -9.05, -9.15, -9.05, -8.90, -8.75, -8.90, -9.05, -9.30, -9.55, -9.80, -9.95, -9.85, -9.95, -9.80, -9.95, -9.90, -9.95, -9.75, -9.95, -9.85, -9.95, -9.90, -9.70, -9.50, -9.30, -9.55, -9.75, -9.95, -9.85, -9.95, -9.80, -9.95],
  [-8.92, -8.97, -8.99, -9.00, -9.00, -9.02, -9.00, -8.98, -8.96, -8.85, -8.75, -8.60, -8.70, -8.55, -8.45, -8.30, -8.15, -8.00, -8.10, -8.00, -8.15, -8.30, -8.50, -8.70, -8.95, -9.20, -9.45, -9.70, -9.90, -9.75, -9.50, -9.25, -9.00, -8.75, -8.50, -8.25, -8.05, -8.00, -8.20, -8.45, -8.70, -8.95, -9.20],
];
const LP_LO = [-9.15, -9.07, -9.04, -9.04, -9.04, -9.04, -9.04, -9.12, -9.28, -9.25, -9.40, -9.42, -9.65, -9.70, -9.85, -9.78, -9.88, -9.80, -9.90, -9.82, -9.88, -9.80, -9.90, -9.84];
const LP_HI = [-8.85, -8.93, -8.96, -8.96, -8.96, -8.96, -8.96, -8.82, -8.75, -8.56, -8.60, -8.40, -8.40, -8.20, -8.25, -8.10, -8.18, -8.12, -8.20, -8.10, -8.16, -8.08, -8.18, -8.12];
const LP_DOMAIN = [-10.064, -7.87];
const LP_TICKS = [-10.0, -9.5, -9.0, -8.5, -8.0];

const V0_WALKERS = [
  [-71.15, -71.22, -71.26, -71.27, -71.25, -71.22, -71.20, -71.18, -71.15, -71.05, -70.95, -70.85, -70.70, -70.65, -70.80, -70.70, -70.85, -70.95, -70.80, -70.70, -70.85, -71.00, -70.90, -70.75, -70.60, -70.50, -70.70, -70.85, -70.75, -70.65, -70.80, -70.95, -70.85, -70.75, -70.70, -70.85, -70.95, -70.80, -70.65, -70.80, -70.95, -70.85, -70.80],
  [-71.70, -71.45, -71.34, -71.30, -71.32, -71.35, -71.38, -71.36, -71.40, -71.45, -71.50, -71.55, -71.65, -71.75, -71.60, -71.70, -71.55, -71.95, -71.70, -71.60, -71.50, -71.65, -71.55, -71.45, -71.55, -71.65, -71.75, -71.60, -71.50, -71.65, -71.80, -71.90, -71.75, -71.60, -71.70, -71.55, -71.65, -71.75, -71.60, -71.50, -71.65, -71.70, -71.85],
  [-71.25, -71.28, -71.29, -71.28, -71.27, -71.29, -71.28, -71.26, -71.30, -71.20, -71.10, -71.20, -71.05, -71.15, -71.00, -70.90, -71.05, -71.15, -71.00, -70.85, -70.95, -71.10, -71.00, -71.10, -71.25, -71.15, -71.00, -70.90, -71.05, -71.20, -71.10, -70.95, -70.85, -70.95, -71.05, -70.95, -70.90, -71.00, -71.10, -71.00, -70.95, -71.05, -71.15],
  [-71.40, -71.33, -71.30, -71.29, -71.30, -71.31, -71.29, -71.32, -71.34, -71.38, -71.42, -71.35, -71.45, -71.40, -71.30, -71.40, -71.50, -71.35, -71.25, -71.40, -71.50, -71.40, -71.30, -71.40, -71.55, -71.45, -71.35, -71.50, -71.60, -71.70, -71.55, -71.45, -71.55, -71.45, -71.35, -71.25, -71.40, -71.50, -71.40, -71.30, -71.45, -71.55, -71.45],
  [-71.20, -71.25, -71.27, -71.28, -71.29, -71.27, -71.28, -71.30, -71.27, -71.20, -71.25, -71.15, -71.20, -71.10, -71.20, -71.30, -71.15, -71.05, -71.20, -71.30, -71.20, -71.10, -71.20, -71.15, -71.05, -71.20, -71.30, -71.20, -71.10, -71.00, -71.15, -71.25, -71.15, -71.05, -71.15, -71.25, -71.15, -71.05, -71.15, -71.25, -71.35, -71.25, -71.15],
  [-71.55, -71.38, -71.32, -71.29, -71.28, -71.30, -71.32, -71.30, -71.28, -71.35, -71.25, -71.35, -71.45, -71.30, -71.20, -71.35, -71.45, -71.35, -71.20, -71.30, -71.40, -71.30, -71.20, -71.30, -71.45, -71.55, -71.40, -71.30, -71.45, -71.55, -71.45, -71.35, -71.25, -71.35, -71.45, -71.35, -71.25, -71.35, -71.45, -71.55, -71.45, -71.35, -71.45],
  [-71.30, -71.29, -71.28, -71.27, -71.26, -71.24, -71.25, -71.22, -71.25, -71.10, -71.00, -70.90, -71.00, -70.80, -70.70, -70.85, -71.00, -70.90, -70.80, -70.95, -70.85, -70.75, -70.90, -71.00, -70.85, -70.75, -70.85, -70.95, -71.05, -70.95, -70.85, -70.75, -70.90, -71.00, -70.90, -70.80, -70.90, -71.00, -70.85, -70.75, -70.85, -70.95, -71.05],
  [-71.10, -71.20, -71.26, -71.28, -71.27, -71.28, -71.26, -71.29, -71.27, -71.35, -71.45, -71.55, -71.40, -71.30, -71.45, -71.35, -71.25, -71.40, -71.50, -71.40, -71.55, -71.65, -71.50, -71.40, -71.30, -71.45, -71.55, -71.65, -71.75, -71.60, -71.70, -71.55, -71.45, -71.30, -71.40, -71.50, -71.40, -71.30, -71.20, -71.35, -71.50, -71.40, -71.55],
];
const V0_LO = [-71.50, -71.38, -71.33, -71.34, -71.34, -71.34, -71.34, -71.40, -71.47, -71.46, -71.54, -71.48, -71.52, -71.46, -71.55, -71.52, -71.58, -71.50, -71.54, -71.47, -71.52, -71.46, -71.54, -71.48];
const V0_HI = [-71.20, -71.23, -71.25, -71.24, -71.24, -71.24, -71.24, -71.13, -71.07, -70.98, -71.00, -70.92, -70.98, -70.94, -71.00, -70.92, -70.97, -70.88, -70.92, -70.86, -70.95, -70.92, -71.00, -70.96];
const V0_DOMAIN = [-71.979, -70.441];
const V0_TICKS = [-71.5, -71.0, -70.5];

// ---------------- layout ----------------
const COL_X = [86.7, 558.4, 1031];
const ROW_Y = [50, 495.5, 940.7, 1385.7];
const PW = 338.4;
const PH = 287.3;

type Part = { t: string; it?: boolean };
type Title = { base: Part; sub?: Part[]; sup?: Part[]; unit?: string; lift?: number };
type PanelSpec = { row: number; col: number; walkers: number[][]; lo: number[]; hi: number[]; domain: number[]; ticks: number[]; dec: number; title: Title };

const PANELS: PanelSpec[] = [
  { row: 0, col: 0, walkers: R0N_WALKERS, lo: R0N_LO, hi: R0N_HI, domain: R0N_DOMAIN, ticks: R0N_TICKS, dec: 2, title: { base: { t: 'R', it: true }, sup: [{ t: 'n', it: true }], sub: [{ t: '0' }], unit: '[fm]' } },
  { row: 0, col: 1, walkers: R0P_WALKERS, lo: R0P_LO, hi: R0P_HI, domain: R0P_DOMAIN, ticks: R0P_TICKS, dec: 1, title: { base: { t: 'R', it: true }, sup: [{ t: 'p', it: true }], sub: [{ t: '0' }], unit: '[fm]' } },
  { row: 0, col: 2, walkers: R0LSN_WALKERS, lo: R0LSN_LO, hi: R0LSN_HI, domain: R0LSN_DOMAIN, ticks: R0LSN_TICKS, dec: 1, title: { base: { t: 'R', it: true }, sup: [{ t: 'n', it: true }], sub: [{ t: '0,' }, { t: 'ls', it: true }], unit: '[fm]', lift: 0.5 } },
  { row: 1, col: 0, walkers: R0LSP_WALKERS, lo: R0LSP_LO, hi: R0LSP_HI, domain: R0LSP_DOMAIN, ticks: R0LSP_TICKS, dec: 1, title: { base: { t: 'R', it: true }, sup: [{ t: 'p', it: true }], sub: [{ t: '0,' }, { t: 'ls', it: true }], unit: '[fm]', lift: 0.5 } },
  { row: 1, col: 1, walkers: AN_WALKERS, lo: AN_LO, hi: AN_HI, domain: AN_DOMAIN, ticks: AN_TICKS, dec: 1, title: { base: { t: 'a', it: true }, sub: [{ t: 'n', it: true }], unit: '[fm]' } },
  { row: 1, col: 2, walkers: AP_WALKERS, lo: AP_LO, hi: AP_HI, domain: AP_DOMAIN, ticks: AP_TICKS, dec: 1, title: { base: { t: 'a', it: true }, sub: [{ t: 'p', it: true }], unit: '[fm]' } },
  { row: 2, col: 0, walkers: ANLS_WALKERS, lo: ANLS_LO, hi: ANLS_HI, domain: ANLS_DOMAIN, ticks: ANLS_TICKS, dec: 1, title: { base: { t: 'a', it: true }, sup: [{ t: 'ls', it: true }], sub: [{ t: 'n', it: true }], unit: '[fm]' } },
  { row: 2, col: 1, walkers: APLS_WALKERS, lo: APLS_LO, hi: APLS_HI, domain: APLS_DOMAIN, ticks: APLS_TICKS, dec: 2, title: { base: { t: 'a', it: true }, sup: [{ t: 'ls', it: true }], sub: [{ t: 'p', it: true }], unit: '[fm]' } },
  { row: 2, col: 2, walkers: LN_WALKERS, lo: LN_LO, hi: LN_HI, domain: LN_DOMAIN, ticks: LN_TICKS, dec: 1, title: { base: { t: 'λ', it: true }, sub: [{ t: 'n', it: true }] } },
  { row: 3, col: 0, walkers: LP_WALKERS, lo: LP_LO, hi: LP_HI, domain: LP_DOMAIN, ticks: LP_TICKS, dec: 1, title: { base: { t: 'λ', it: true }, sub: [{ t: 'p', it: true }] } },
  { row: 3, col: 1, walkers: V0_WALKERS, lo: V0_LO, hi: V0_HI, domain: V0_DOMAIN, ticks: V0_TICKS, dec: 1, title: { base: { t: 'V', it: true }, sub: [{ t: '0' }], unit: '[MeV]' } },
];

const SERIF = '"Liberation Serif", "Times New Roman", serif';
const SANS = '"Open Sans", "DejaVu Sans", sans-serif';
const TITLE_SIZE = 34;
const BASE_SIZE = 37;
const SCRIPT_SIZE = 25;
const CW: Record<string, number> = { n: 0.5, p: 0.5, l: 0.278, s: 0.389, '0': 0.5, ',': 0.25 };
const partsWidth = (parts: Part[] | undefined) =>
  (parts || []).reduce((s, p) => s + p.t.split('').reduce((a, c) => a + (CW[c] ?? 0.5), 0) * SCRIPT_SIZE, 0);

const fmt = (v: number, dec: number) => (v < 0 ? '\u2212' : '') + Math.abs(v).toFixed(dec);

function TitleText({ title, cx, y }: { title: Title; cx: number; y: number }) {
  const supW = partsWidth(title.sup);
  const subW = partsWidth(title.sub);
  const supRaise = 12;
  const subDrop = 8.5;
  const pieces: React.ReactNode[] = [];
  pieces.push(
    <tspan key="b" fontStyle={title.base.it ? 'italic' : 'normal'} fontSize={BASE_SIZE}>
      {title.base.t}
    </tspan>
  );
  let level = 0;
  if (title.sup) {
    pieces.push(
      <tspan key="sup" dx={2} dy={-supRaise} fontSize={SCRIPT_SIZE}>
        {title.sup.map((p, i) => <tspan key={i} fontStyle={p.it ? 'italic' : 'normal'}>{p.t}</tspan>)}
      </tspan>
    );
    level = -supRaise;
  }
  if (title.sub) {
    pieces.push(
      <tspan key="sub" dx={title.sup ? -supW - 1 : 1} dy={subDrop - level} fontSize={SCRIPT_SIZE}>
        {title.sub.map((p, i) => <tspan key={i} fontStyle={p.it ? 'italic' : 'normal'}>{p.t}</tspan>)}
      </tspan>
    );
    level = subDrop;
  }
  if (title.unit) {
    const extra = title.sup ? Math.max(0, supW - subW) : 0;
    pieces.push(<tspan key="u" dx={18 + extra} dy={-level}>{title.unit}</tspan>);
  }
  return (
    <text x={cx} y={y} textAnchor="middle" fontFamily={SERIF} fontSize={TITLE_SIZE} fill="#000">
      {pieces}
    </text>
  );
}

function Panel({ p, idx }: { p: PanelSpec; idx: number }) {
  const left = COL_X[p.col];
  const top = ROW_Y[p.row];
  const x = d3.scaleLinear().domain([0, 1000]).range([left, left + PW]);
  const y = d3.scaleLinear().domain(p.domain).range([top + PH, top]);
  const line = d3
    .line<number>()
    .x((_, i) => x(STEPS[i]))
    .y((v) => y(v));
  const area = d3
    .area<number>()
    .x((_, i) => x(BAND_STEPS[i]))
    .y0((_, i) => y(p.lo[i]))
    .y1((_, i) => y(p.hi[i]));
  const clipId = `clip${idx}`;
  const n = Math.min(p.lo.length, p.hi.length, BAND_STEPS.length);
  return (
    <g>
      <defs>
        <clipPath id={clipId}>
          <rect x={left} y={top} width={PW} height={PH} />
        </clipPath>
      </defs>
      <g clipPath={`url(#${clipId})`}>
        <path d={area(p.lo.slice(0, n)) || ''} fill="#000" fillOpacity={0.56} stroke="none" />
        {p.walkers.map((w, i) => (
          <path
            key={i}
            d={line(w.slice(0, STEPS.length)) || ''}
            fill="none"
            stroke="#000"
            strokeOpacity={0.33}
            strokeWidth={3}
            strokeLinejoin="round"
            strokeLinecap="butt"
          />
        ))}
      </g>
      <rect x={left} y={top} width={PW} height={PH} fill="none" stroke="#000" strokeWidth={2} />
      {X_TICKS.map((t) => (
        <g key={`x${t}`}>
          <line x1={x(t)} x2={x(t)} y1={top + PH} y2={top + PH + 9} stroke="#000" strokeWidth={2} />
          <text x={x(t)} y={top + PH + 35.5} textAnchor="middle" fontFamily={SERIF} fontSize={25} fill="#000">
            {t}
          </text>
        </g>
      ))}
      {p.ticks.map((t) => (
        <g key={`y${t}`}>
          <line x1={left - 9} x2={left} y1={y(t)} y2={y(t)} stroke="#000" strokeWidth={2} />
          <text x={left - 12} y={y(t)} dy="0.33em" textAnchor="end" fontFamily={SERIF} fontSize={25} fill="#000">
            {fmt(t, p.dec)}
          </text>
        </g>
      ))}
      <text x={left + PW / 2} y={top + PH + 75.5} textAnchor="middle" fontFamily={SANS} fontSize={32} fill="#000">
        Step number
      </text>
      <TitleText title={p.title} cx={left + PW / 2} y={top - 15.5 - (p.title.lift || 0)} />
    </g>
  );
}

export default function App() {
  return (
    <svg
      width={1426}
      height={1758}
      viewBox="0 0 1426 1758"
      style={{ position: 'absolute', left: 0, top: 0, background: '#fff' }}
    >
      <rect x={0} y={0} width={1426} height={1758} fill="#fff" />
      {PANELS.map((p, i) => (
        <Panel key={i} p={p} idx={i} />
      ))}
      <text x={1288} y={1751.7} textAnchor="middle" fontFamily={SERIF} fontSize={29} fill="#000">
        65
      </text>
    </svg>
  );
}
